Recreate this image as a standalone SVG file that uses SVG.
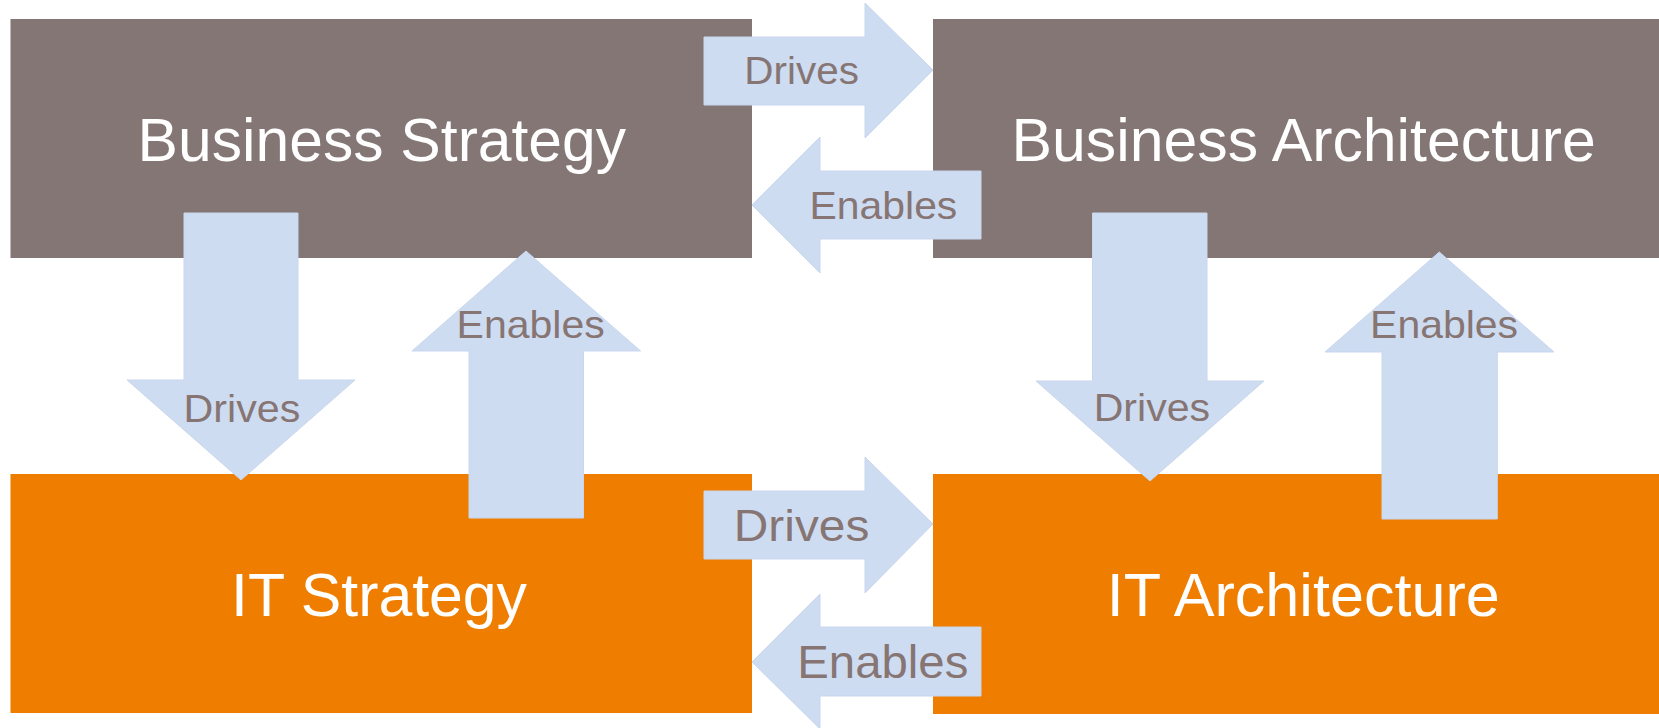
<svg xmlns="http://www.w3.org/2000/svg" width="1659" height="728" viewBox="0 0 1659 728">
<style>
.biz{fill:#837674}
.it{fill:#EF7D00}
.arrow{fill:#CEDCF2;stroke:#C9D7EE;stroke-width:1}
.title{font-family:"Liberation Sans",Arial,sans-serif;font-size:61px;fill:#FFFFFF}
.lbl{font-family:"Liberation Sans",Arial,sans-serif;fill:#867573}
</style>
<rect width="1659" height="728" fill="#FFFFFF"/>
<g id="business-strategy">
<rect class="biz" x="10.5" y="19" width="741.5" height="239"/>
<text class="title" x="137.6" y="161" textLength="488.5" lengthAdjust="spacingAndGlyphs">Business Strategy</text>
</g>
<g id="business-architecture">
<rect class="biz" x="933" y="19" width="726" height="239"/>
<text class="title" x="1011.5" y="161" textLength="584.4" lengthAdjust="spacingAndGlyphs">Business Architecture</text>
</g>
<g id="it-strategy">
<rect class="it" x="10.5" y="474" width="741.5" height="239"/>
<text class="title" x="231" y="615.7" textLength="296" lengthAdjust="spacingAndGlyphs">IT Strategy</text>
</g>
<g id="it-architecture">
<rect class="it" x="933" y="474" width="726" height="240"/>
<text class="title" x="1106.8" y="615.7" textLength="393" lengthAdjust="spacingAndGlyphs">IT Architecture</text>
</g>
<g id="connectors">
<g id="bs-drives-ba">
<polygon class="arrow" points="704,37 865,37 865,3 933,70 865,138 865,105 704,105"/>
<text class="lbl" x="744.3" y="84" font-size="39" textLength="114.6" lengthAdjust="spacingAndGlyphs">Drives</text>
</g>
<g id="ba-enables-bs">
<polygon class="arrow" points="981,171 820,171 820,137 752,205 820,273 820,239 981,239"/>
<text class="lbl" x="809.6" y="219.3" font-size="39" textLength="147.7" lengthAdjust="spacingAndGlyphs">Enables</text>
</g>
<g id="bs-drives-its">
<polygon class="arrow" points="184,213 298,213 298,380 355,380 241,480 127,380 184,380"/>
<text class="lbl" x="183.6" y="421.7" font-size="39.5" textLength="116.7" lengthAdjust="spacingAndGlyphs">Drives</text>
</g>
<g id="its-enables-bs">
<polygon class="arrow" points="526,251 640.6,351 583.5,351 583.5,518 469,518 469,351 412,351"/>
<text class="lbl" x="456.6" y="338.3" font-size="39.5" textLength="148.2" lengthAdjust="spacingAndGlyphs">Enables</text>
</g>
<g id="its-drives-ita">
<polygon class="arrow" points="704,491 865,491 865,457 933,524 865,593 865,559 704,559"/>
<text class="lbl" x="733.8" y="541" font-size="45" textLength="135.5" lengthAdjust="spacingAndGlyphs">Drives</text>
</g>
<g id="ita-enables-its">
<polygon class="arrow" points="981,627 820,627 820,594 752,662 820,729 820,696 981,696"/>
<text class="lbl" x="797.3" y="678" font-size="46" textLength="171" lengthAdjust="spacingAndGlyphs">Enables</text>
</g>
<g id="ba-drives-ita">
<polygon class="arrow" points="1092.5,213 1207,213 1207,381 1264,381 1150,481 1036,381 1092.5,381"/>
<text class="lbl" x="1093.7" y="421" font-size="39.5" textLength="116.4" lengthAdjust="spacingAndGlyphs">Drives</text>
</g>
<g id="ita-enables-ba">
<polygon class="arrow" points="1439.3,252 1554,352 1497.3,352 1497.3,519 1382,519 1382,352 1325,352"/>
<text class="lbl" x="1370.1" y="338.3" font-size="39.5" textLength="148" lengthAdjust="spacingAndGlyphs">Enables</text>
</g>
</g>
</svg>
